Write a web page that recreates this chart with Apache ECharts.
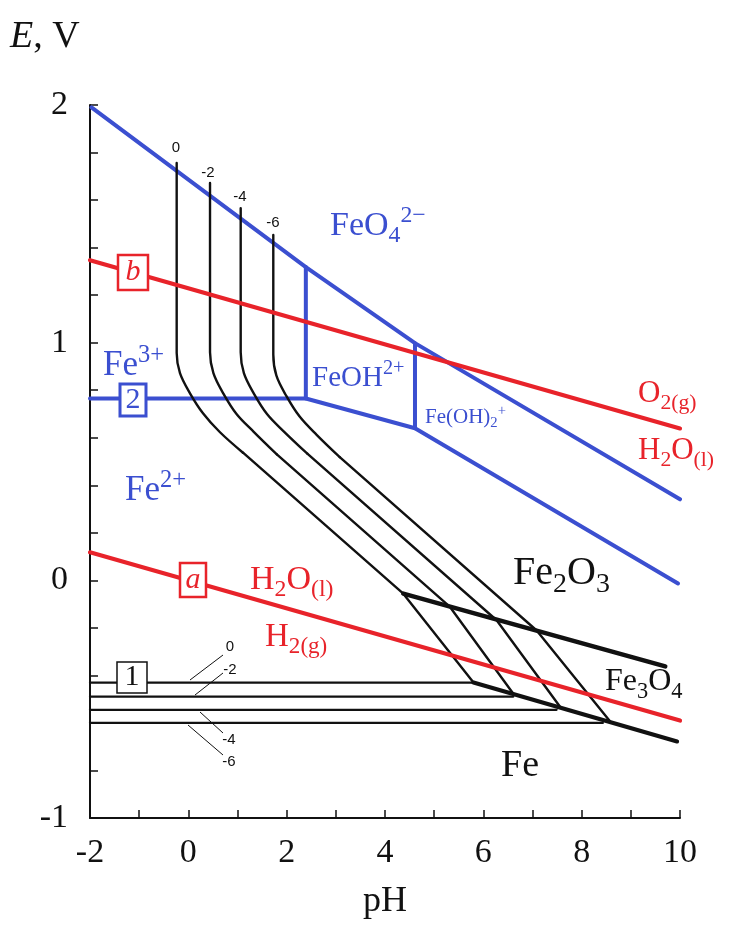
<!DOCTYPE html>
<html>
<head>
<meta charset="utf-8">
<title>Fe Pourbaix</title>
<script src="https://cdn.jsdelivr.net/npm/echarts@6/dist/echarts.min.js"></script>
<style>
html, body { margin: 0; padding: 0; background: #fff; }
#main { width: 732px; height: 934px; }
</style>
</head>
<body>
<div id="main"></div>
<script>
// water stability lines: a = H2O/H2, b = O2/H2O
var waterA = [[-2, 0.118], [10, -0.59]];
var waterB = [[-2, 1.347], [10, 0.639]];

// blue boundaries of dissolved species
var feo4Line = [[-1.97, 1.99], [2.39, 1.318], [4.61, 0.998], [10.0, 0.341]];
var fe3Line = [[-2, 0.765], [2.39, 0.765], [4.61, 0.640], [9.96, -0.013]];
var feohWall = [[2.39, 0.765], [2.39, 1.318]];
var feoh2Wall = [[4.61, 0.640], [4.61, 0.998]];

// black iron lines for log a = 0, -2, -4, -6 (vertical + bend part)
var bend0 = [[-0.237, 1.756], [-0.237, 0.956], [-0.17, 0.872], [0.034, 0.787], [0.298, 0.703], [0.644, 0.623], [1.112, 0.537]];
var bend2 = [[0.441, 1.672], [0.441, 0.96], [0.51, 0.872], [0.71, 0.787], [0.98, 0.70], [1.33, 0.625], [1.80, 0.530]];
var bend4 = [[1.065, 1.566], [1.065, 0.96], [1.13, 0.872], [1.33, 0.787], [1.60, 0.70], [1.95, 0.625], [2.42, 0.533]];
var bend6 = [[1.728, 1.453], [1.728, 0.95], [1.79, 0.862], [1.99, 0.777], [2.26, 0.69], [2.61, 0.612], [3.08, 0.518]];
// straight parts: Fe2+/Fe2O3 then Fe2+/Fe3O4
var diag0 = [[1.112, 0.537], [4.372, -0.056], [5.80, -0.430]];
var diag2 = [[1.80, 0.530], [5.322, -0.112], [6.61, -0.477]];
var diag4 = [[2.42, 0.533], [6.271, -0.168], [7.56, -0.532]];
var diag6 = [[3.08, 0.518], [7.085, -0.211], [8.58, -0.594]];
// Fe2+/Fe
var flat0 = [[-2, -0.430], [5.80, -0.430]];
var flat2 = [[-2, -0.489], [6.61, -0.489]];
var flat4 = [[-2, -0.545], [7.49, -0.545]];
var flat6 = [[-2, -0.600], [8.43, -0.600]];
// solid phases
var fe2o3Line = [[4.372, -0.056], [9.70, -0.362]];
var fe3o4Line = [[5.80, -0.430], [9.94, -0.678]];

var BLUE = '#3b4fd0';
var RED = '#e8232a';
var INK = '#111';
var SERIF = 'Liberation Serif';

function seg(data, color, width, z, smooth) {
    return {
        type: 'line', data: data, symbol: 'none', smooth: smooth || false,
        lineStyle: { color: color, width: width, cap: 'round', join: 'round' },
        z: z, silent: true, animation: false
    };
}

function txt(x, y, text, rich, align) {
    return {
        type: 'text', x: x, y: y, z: 100,
        style: { text: text, rich: rich, align: align || 'left', verticalAlign: 'middle' }
    };
}

function chem(color, size) {
    return {
        n: { fontFamily: SERIF, fontSize: size, fill: color, lineHeight: size * 1.3 },
        sb: { fontFamily: SERIF, fontSize: size * 0.7, fill: color, verticalAlign: 'bottom', lineHeight: size * 0.7 },
        sp: { fontFamily: SERIF, fontSize: size * 0.7, fill: color, verticalAlign: 'top', lineHeight: size * 0.7 }
    };
}

function box(x, y, w, h, color, lw, label, italic) {
    return [
        { type: 'rect', z: 99, shape: { x: x, y: y, width: w, height: h },
          style: { fill: '#fff', stroke: color, lineWidth: lw } },
        { type: 'text', z: 100, x: x + w / 2, y: y + h / 2,
          style: { text: label, fill: color, font: (italic ? 'italic ' : '') + '30px ' + SERIF,
                   align: 'center', verticalAlign: 'middle' } }
    ];
}

function small(x, y, label) {
    return { type: 'text', z: 100, x: x, y: y,
             style: { text: label, fill: INK, font: '15px Liberation Sans', align: 'center', verticalAlign: 'middle' } };
}

function leader(x1, y1, x2, y2) {
    return { type: 'line', z: 100, shape: { x1: x1, y1: y1, x2: x2, y2: y2 },
             style: { stroke: INK, lineWidth: 1 } };
}

var chart = echarts.init(document.getElementById('main'), null, { renderer: 'canvas' });

var series = [
    seg(feo4Line, BLUE, 4, 3), seg(fe3Line, BLUE, 4, 3),
    seg(feohWall, BLUE, 4, 3), seg(feoh2Wall, BLUE, 4, 3),
    seg(bend0, INK, 2.4, 4, 0.35), seg(bend2, INK, 2.4, 4, 0.35),
    seg(bend4, INK, 2.4, 4, 0.35), seg(bend6, INK, 2.4, 4, 0.35),
    seg(diag0, INK, 2.4, 4), seg(diag2, INK, 2.4, 4),
    seg(diag4, INK, 2.4, 4), seg(diag6, INK, 2.4, 4),
    seg(flat0, INK, 2.3, 4), seg(flat2, INK, 2.3, 4),
    seg(flat4, INK, 2.3, 4), seg(flat6, INK, 2.3, 4),
    seg(fe2o3Line, INK, 4.5, 4), seg(fe3o4Line, INK, 4.2, 4),
    seg(waterA, RED, 4.2, 5), seg(waterB, RED, 4.2, 5)
];

var graphics = [
    txt(10, 37, '{i|E}{n|, V}', {
        i: { fontFamily: SERIF, fontSize: 38, fontStyle: 'italic', fill: INK },
        n: { fontFamily: SERIF, fontSize: 38, fill: INK }
    }),
    txt(330, 226, '{n|FeO}{sb|4}{sp|2\u2212}', chem(BLUE, 34)),
    txt(103, 366, '{n|Fe}{sp|3+}', chem(BLUE, 35)),
    txt(125, 491, '{n|Fe}{sp|2+}', chem(BLUE, 35)),
    txt(312, 378, '{n|FeOH}{sp|2+}', chem(BLUE, 29)),
    txt(425, 417, '{n|Fe(OH)}{sb|2}{sp|+}', chem(BLUE, 21)),
    txt(638, 394, '{n|O}{sb|2(g)}', chem(RED, 31)),
    txt(638, 451, '{n|H}{sb|2}{n|O}{sb|(l)}', chem(RED, 31)),
    txt(250, 580, '{n|H}{sb|2}{n|O}{sb|(l)}', chem(RED, 34)),
    txt(265, 637, '{n|H}{sb|2(g)}', chem(RED, 33)),
    txt(513, 573, '{n|Fe}{sb|2}{n|O}{sb|3}', chem(INK, 40)),
    txt(605, 682, '{n|Fe}{sb|3}{n|O}{sb|4}', chem(INK, 32)),
    txt(501, 766, '{n|Fe}', chem(INK, 38)),
    small(176, 148, '0'), small(208, 173, '-2'), small(240, 197, '-4'), small(273, 223, '-6'),
    small(230, 647, '0'), small(230, 670, '-2'), small(229, 740, '-4'), small(229, 762, '-6'),
    leader(190, 680, 223, 655), leader(195, 695, 223, 673),
    leader(200, 712, 223, 733), leader(188, 725, 223, 755)
].concat(
    box(118, 255, 30, 35, RED, 2.5, 'b', true),
    box(120, 384, 26, 32, BLUE, 3, '2', false),
    box(180, 563, 26, 34, RED, 2.5, 'a', true),
    box(117, 662, 30, 31, INK, 1.5, '1', false)
);

chart.setOption({
    backgroundColor: '#fff',
    animation: false,
    grid: { left: 90, right: 52, top: 105, bottom: 116 },
    xAxis: {
        type: 'value', min: -2, max: 10, interval: 1,
        name: 'pH', nameLocation: 'middle', nameGap: 66,
        nameTextStyle: { fontFamily: SERIF, fontSize: 36, color: INK },
        axisLine: { onZero: false, lineStyle: { color: INK, width: 2 } },
        axisTick: { inside: true, length: 8, lineStyle: { color: INK, width: 1.5 } },
        axisLabel: {
            margin: 18, fontFamily: SERIF, fontSize: 34, color: INK,
            formatter: function (v) { return Math.round(v) % 2 === 0 ? String(Math.round(v)) : ''; }
        },
        splitLine: { show: false }
    },
    yAxis: {
        type: 'value', min: -1, max: 2, interval: 0.2,
        axisLine: { onZero: false, lineStyle: { color: INK, width: 2 } },
        axisTick: { inside: true, length: 8, lineStyle: { color: INK, width: 1.5 } },
        axisLabel: {
            margin: 22, fontFamily: SERIF, fontSize: 34, color: INK,
            formatter: function (v) { return Math.abs(v - Math.round(v)) < 1e-6 ? String(Math.round(v)) : ''; }
        },
        splitLine: { show: false }
    },
    series: series,
    graphic: graphics
});
</script>
</body>
</html>
